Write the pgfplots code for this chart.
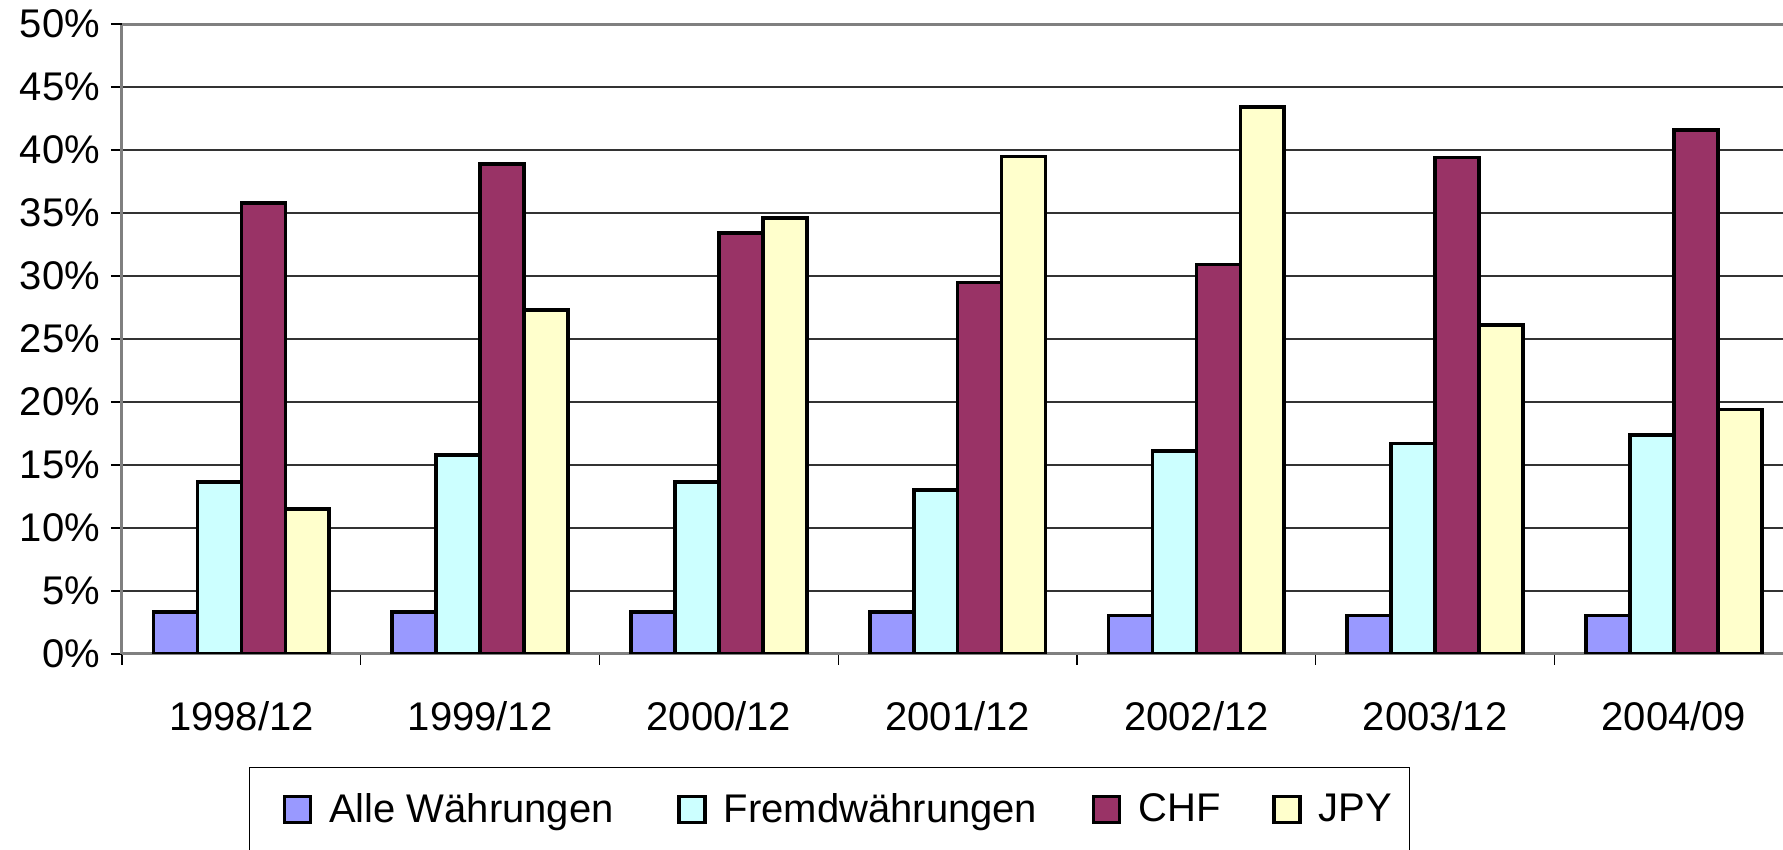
\documentclass[border=0pt]{standalone}
\usepackage{fontspec}
\setmainfont{Liberation Sans}
\usepackage{pgfplots}
\pgfplotsset{compat=1.18}
\definecolor{cAlle}{HTML}{9999FF}
\definecolor{cFremd}{HTML}{CCFFFF}
\definecolor{cCHF}{HTML}{993366}
\definecolor{cJPY}{HTML}{FFFFCC}
\begin{document}
\begin{tikzpicture}
\useasboundingbox (-61pt,-98pt) rectangle (830.5pt,327pt);
\begin{axis}[
  at={(0,0)}, anchor=south west,
  scale only axis, width=830.5pt, height=315pt,
  xmin=-0.5, xmax=6.457, ymin=0, ymax=50,
  ybar=0pt, bar width=0.184,
  legend image code/.code={\draw[#1, draw=black, line width=1.8pt] (0pt,-6.5pt) rectangle (13pt,6.5pt);},
  axis x line*=bottom, axis y line*=left,
  x axis line style={draw=gray, line width=1.5pt, -},
  y axis line style={draw=gray, line width=1.5pt, -},
  ytick={0,5,...,45},
  yticklabels={0\%,5\%,10\%,15\%,20\%,25\%,30\%,35\%,40\%,45\%},
  extra y ticks={50}, extra y tick labels={50\%},
  extra y tick style={ymajorgrids=true, grid style={draw=gray, line width=1.5pt}},
  ymajorgrids, grid style={draw=black!80, line width=0.6pt},
  tick align=outside, major tick length=5.5pt,
  tick style={draw=black, line width=0.6pt},
  yticklabel style={xshift=-2pt},
  xtick={-0.5,0.5,...,5.5}, xticklabels={},
  extra x ticks={0,1,2,3,4,5,6},
  extra x tick labels={1998/12,1999/12,2000/12,2001/12,2002/12,2003/12,2004/09},
  extra x tick style={major tick length=0pt, xticklabel style={yshift=-20pt}},
  tick label style={font=\fontsize{20}{24}\selectfont},
  legend columns=4,
  legend cell align=left,
  legend style={
    at={(axis description cs:0.0765,-0.1794)}, anchor=north west,
    draw=black, line width=0.5pt,
    inner xsep=16.5pt, inner ysep=13pt,
    font=\fontsize{20}{24}\selectfont,
    nodes={inner sep=0pt},
    /tikz/every odd column/.style={column sep=8.5pt},
  },
]
\addplot[fill=cAlle, draw=black, line width=1.8pt] coordinates {(0,3.35) (1,3.35) (2,3.35) (3,3.35) (4,3.07) (5,3.07) (6,3.07)};
\addlegendentry{\makebox[174pt][l]{Alle Währungen}}
\addplot[fill=cFremd, draw=black, line width=1.8pt] coordinates {(0,13.65) (1,15.8) (2,13.65) (3,13.0) (4,16.1) (5,16.7) (6,17.4)};
\addlegendentry{\makebox[184pt][l]{Fremdwährungen}}
\addplot[fill=cCHF, draw=black, line width=1.8pt] coordinates {(0,35.8) (1,38.9) (2,33.4) (3,29.5) (4,30.9) (5,39.4) (6,41.6)};
\addlegendentry{\makebox[67pt][l]{CHF}}
\addplot[fill=cJPY, draw=black, line width=1.8pt] coordinates {(0,11.5) (1,27.3) (2,34.6) (3,39.5) (4,43.4) (5,26.1) (6,19.4)};
\addlegendentry{\makebox[29pt][l]{JPY}}
\end{axis}
\end{tikzpicture}
\end{document}
